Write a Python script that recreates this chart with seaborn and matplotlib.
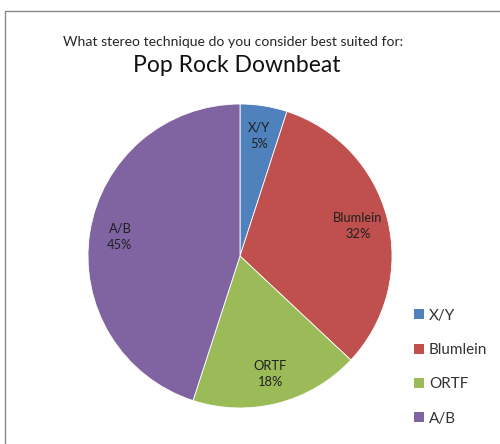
import matplotlib
matplotlib.use("Agg")
import matplotlib.pyplot as plt
from matplotlib.lines import Line2D
from matplotlib.patches import Patch
import seaborn as sns

# Survey answers: preferred stereo technique for pop rock downbeat
techniques = ["X/Y", "Blumlein", "ORTF", "A/B"]
shares = [5, 32, 18, 45]
subtitle = "What stereo technique do you consider best suited for:"
title = "Pop Rock Downbeat"

sns.set_theme(style="white")
plt.rcParams["font.family"] = ["Lato", "DejaVu Sans"]

colors = sns.color_palette(["#4F81BD", "#C0504D", "#9BBB59", "#8064A2"])

W, H = 500, 444
fig = plt.figure(figsize=(W / 100, H / 100), dpi=100)
fig.patch.set_facecolor("white")

# chart-area frame (left and top edges visible)
frame_kw = dict(color="#8a8a8a", linewidth=1.0, transform=fig.transFigure)
fig.add_artist(Line2D([4.5 / W, 4.5 / W], [0, 1 - 11 / H], **frame_kw))
fig.add_artist(Line2D([4.5 / W, 1], [1 - 11 / H, 1 - 11 / H], **frame_kw))

cx, cy, r = 240, 256, 152
ax = fig.add_axes([(cx - r) / W, (H - cy - r) / H, 2 * r / W, 2 * r / H])
labels = [f"{t}\n{s}%" for t, s in zip(techniques, shares)]
wedges, texts = ax.pie(
    shares,
    labels=labels,
    colors=colors,
    startangle=90,
    counterclock=False,
    labeldistance=0.8,
    wedgeprops=dict(edgecolor="white", linewidth=0.6),
    textprops=dict(fontsize=9.3, color="#1f1f1f", ha="center", va="center",
                   linespacing=1.4),
)
for t in texts:
    t.set_horizontalalignment("center")
ax.set_xlim(-1, 1)
ax.set_ylim(-1, 1)
ax.set_aspect("equal")
ax.axis("off")

fig.text(233 / W, 1 - 42 / H, subtitle, ha="center", va="center",
         fontsize=10.1, color="#262626")
fig.text(237 / W, 1 - 65 / H, title, ha="center", va="center",
         fontsize=16.5, color="#111111")

handles = [Patch(facecolor=c, edgecolor="none") for c in colors]
leg = fig.legend(
    handles, techniques,
    loc="upper left",
    bbox_to_anchor=(400 / W, 1 - 295 / H),
    frameon=False,
    fontsize=11,
    handlelength=0.65,
    handleheight=0.65,
    handletextpad=0.35,
    labelspacing=1.33,
)
for t in leg.get_texts():
    t.set_color("#333333")

fig.savefig("out.png", dpi=100, facecolor="white")
